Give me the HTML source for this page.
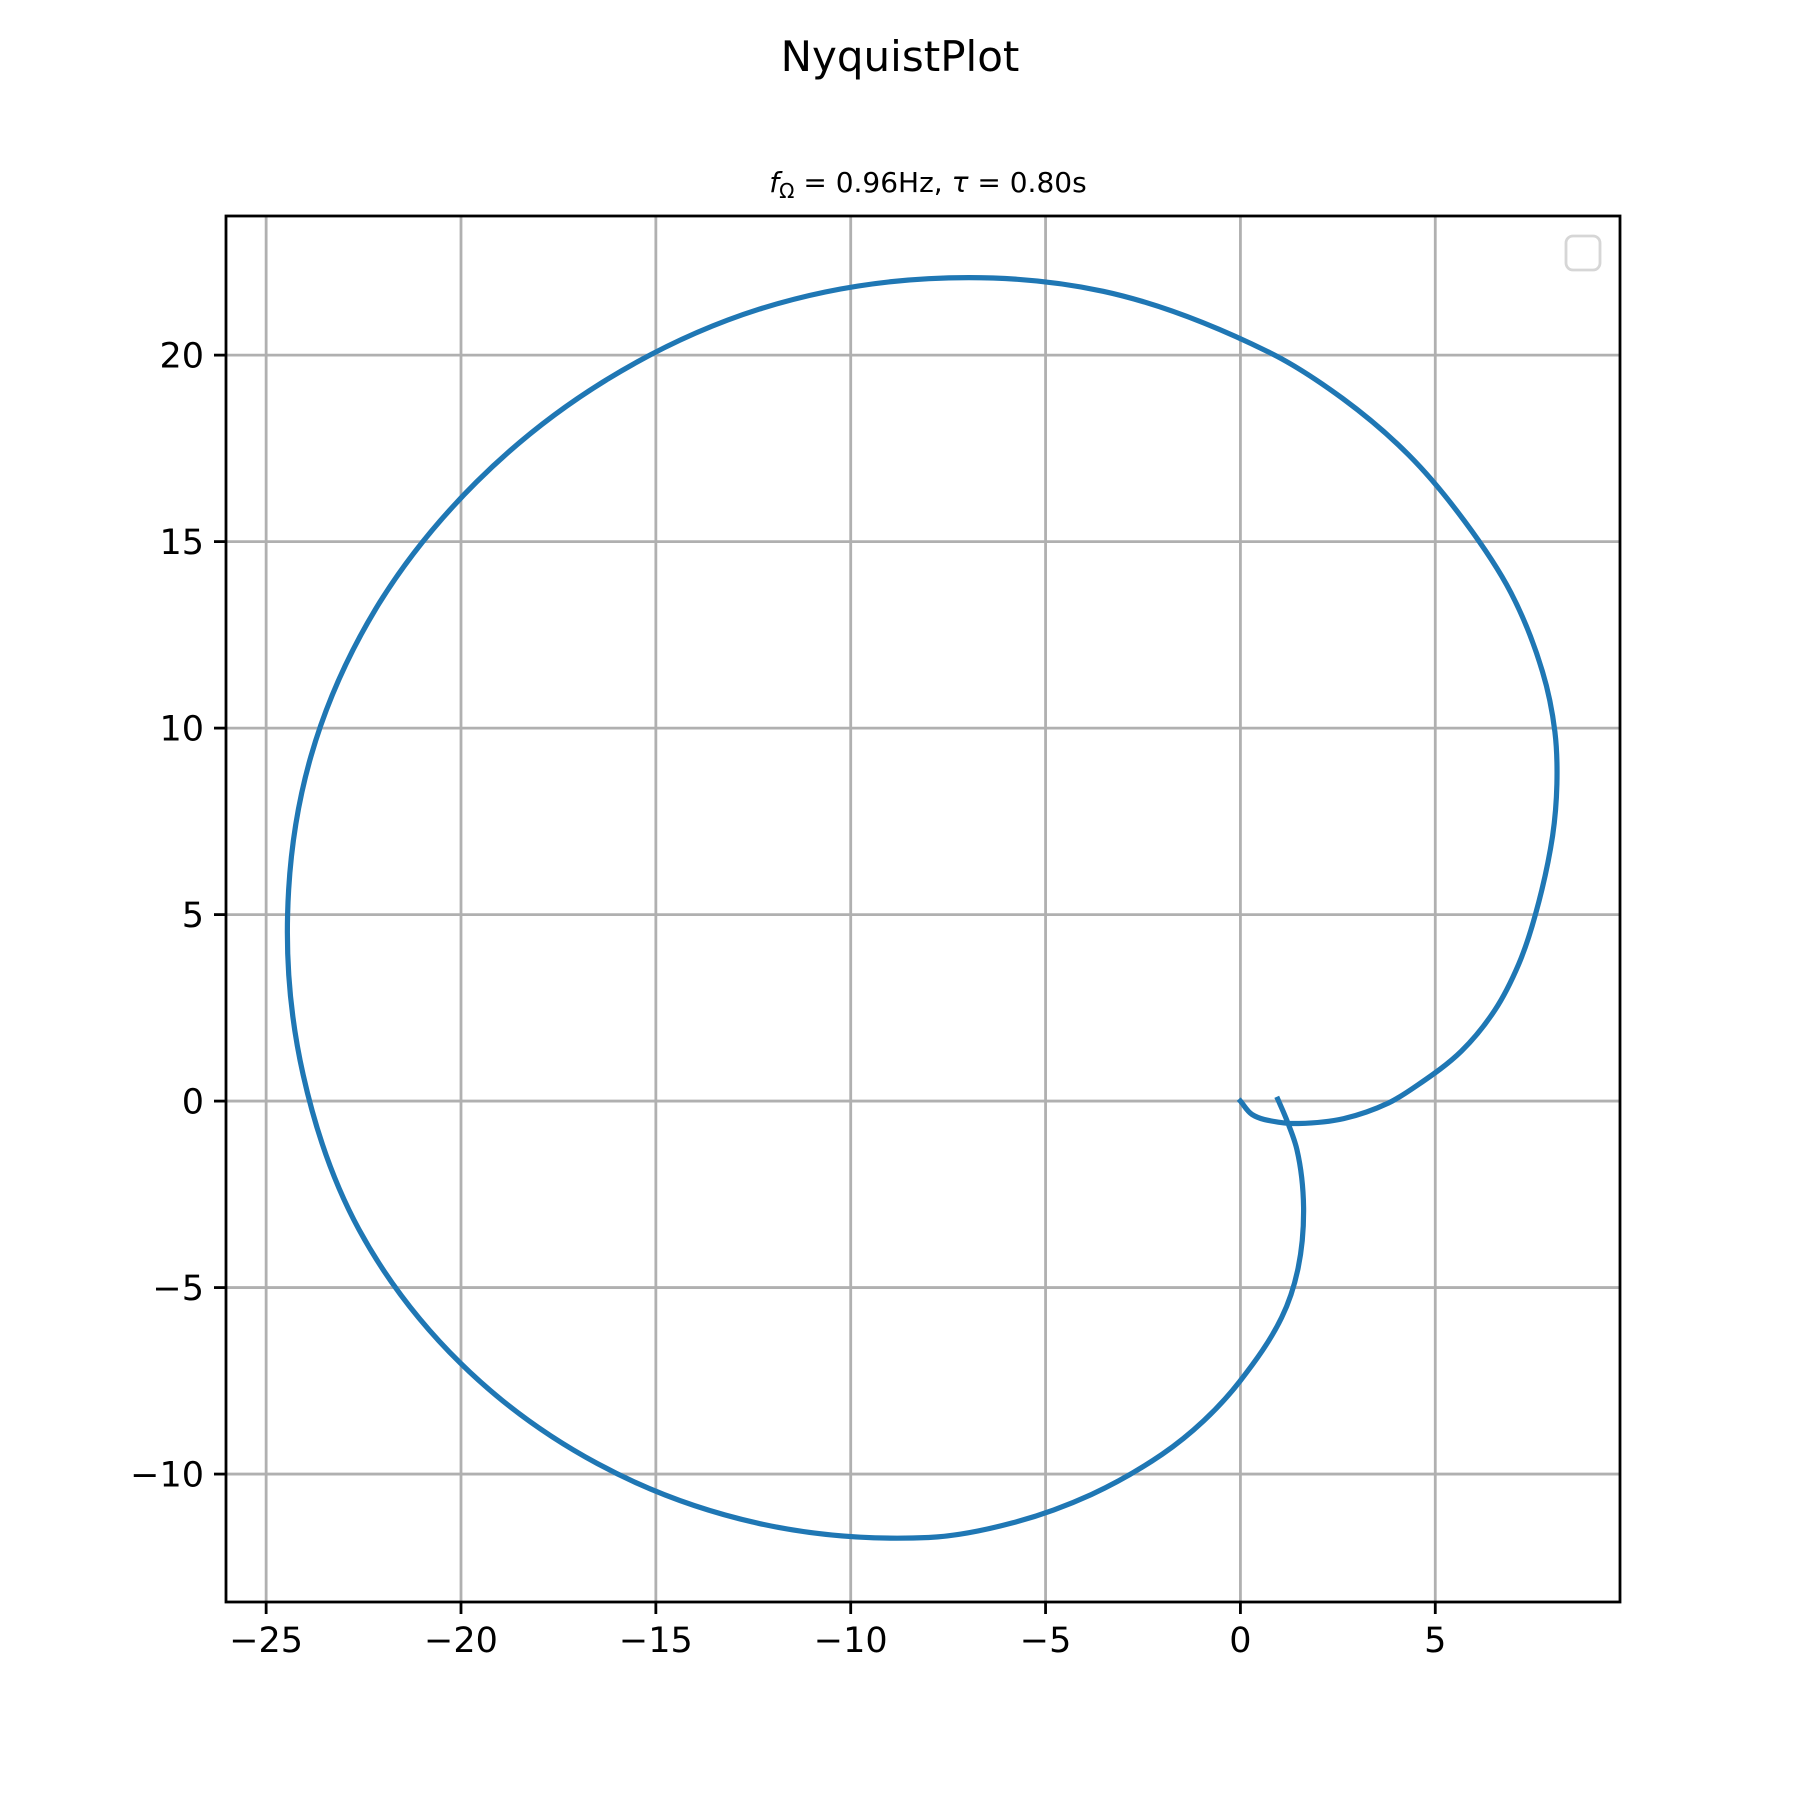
<!DOCTYPE html>
<html><head><meta charset="utf-8"><style>
html,body{margin:0;padding:0;background:#fff}
svg{display:block}
text{font-family:"DejaVu Sans","Liberation Sans",sans-serif;fill:#000}
</style></head><body>
<svg id="chart" width="1800" height="1800" viewBox="0 0 1800 1800" xmlns="http://www.w3.org/2000/svg">
<rect x="0" y="0" width="1800" height="1800" fill="#fff"/>
<text x="900" y="71" font-size="42" text-anchor="middle">NyquistPlot</text>
<text x="928" y="192" font-size="28" text-anchor="middle"><tspan font-style="italic">f</tspan><tspan font-size="20" dy="6">Ω</tspan><tspan dy="-6"> = 0.96Hz, </tspan><tspan font-style="italic">τ</tspan><tspan> = 0.80s</tspan></text>
<g id="grid"></g>
<g id="ticks"></g>
<path id="curve" fill="none" stroke="#1f77b4" stroke-width="5.2" stroke-linecap="square" stroke-linejoin="round"/>
<rect x="226" y="216" width="1394" height="1386" fill="none" stroke="#000" stroke-width="2.8"/>
<rect x="1566" y="236" width="34" height="34" rx="7" fill="#fff" stroke="#d6d6d6" stroke-width="2.8"/>
</svg>
<script>
const xTicks = [-25,-20,-15,-10,-5,0,5];
const yTicks = [-10,-5,0,5,10,15,20];
const xTickLabels = ["−25","−20","−15","−10","−5","0","5"];
const yTickLabels = ["−10","−5","0","5","10","15","20"];
const curveRe = [0,0.3,1.0,1.5,2.65,3.8,4.55,5.67,6.53,7.14,7.57,8.01,8.12,8.07,7.75,6.94,5.75,4.32,2.62,0.71,-3.52,-8,-12.35,-16.28,-19.6,-22.19,-23.85,-24.45,-24.05,-22.62,-20.02,-16.5,-12.37,-8,-5.85,-3.83,-2.01,-0.94,-0.02,1.06,1.48,1.62,1.45,1.17,0.96];
const curveIm = [0,-0.36,-0.57,-0.6,-0.47,-0.05,0.43,1.34,2.44,3.67,5.0,7.11,8.5,9.9,11.52,13.63,15.55,17.32,18.84,20.09,21.71,22.05,21.23,19.33,16.6,13.19,9.25,5,0.7,-3.44,-7.02,-9.72,-11.32,-11.7,-11.31,-10.55,-9.47,-8.57,-7.52,-5.8,-4.48,-2.86,-1.3,-0.46,0.05];
const X0=226,X1=1620,Y0=216,Y1=1602;
const xMin=-26.03,xMax=9.74,yMin=-13.43,yMax=23.73;
const sx=v=>X0+(v-xMin)/(xMax-xMin)*(X1-X0);
const sy=v=>Y1-(v-yMin)/(yMax-yMin)*(Y1-Y0);
const NS="http://www.w3.org/2000/svg";
const grid=document.getElementById('grid'),ticks=document.getElementById('ticks');
function mk(tag,attrs,parent){const e=document.createElementNS(NS,tag);for(const k in attrs)e.setAttribute(k,attrs[k]);parent.appendChild(e);return e;}
xTicks.forEach((t,i)=>{
  const x=sx(t);
  const g=mk('line',{x1:x,x2:x,y1:Y0,y2:Y1,stroke:'#b0b0b0','stroke-width':2.8},grid);
  
  
  const tk=mk('line',{x1:x,x2:x,y1:Y1,y2:Y1+12,stroke:'#000','stroke-width':2.8},ticks);
  
  
  const tx=mk('text',{x:x,y:Y1+50,'font-size':35,'text-anchor':'middle'},ticks);
  tx.textContent=xTickLabels[i];
  
  
});
yTicks.forEach((t,i)=>{
  const y=sy(t);
  const g=mk('line',{x1:X0,x2:X1,y1:y,y2:y,stroke:'#b0b0b0','stroke-width':2.8},grid);
  
  
  const tk=mk('line',{x1:X0-12,x2:X0,y1:y,y2:y,stroke:'#000','stroke-width':2.8},ticks);
  
  
  const tx=mk('text',{x:X0-22,y:y+12.5,'font-size':35,'text-anchor':'end'},ticks);
  tx.textContent=yTickLabels[i];
  
  
});
const P=curveRe.map((r,i)=>[sx(r),sy(curveIm[i])]);
const dist=(a,b)=>Math.hypot(a[0]-b[0],a[1]-b[1])||1e-6;
const unit=(a,b)=>{const l=dist(a,b);return [(b[0]-a[0])/l,(b[1]-a[1])/l];};
function tangent(i){
  const n=P.length;
  if(i===0) return unit(P[0],P[1]);
  if(i===n-1) return unit(P[n-2],P[n-1]);
  const u1=unit(P[i-1],P[i]),u2=unit(P[i],P[i+1]);
  const t=[u1[0]+u2[0],u1[1]+u2[1]];
  const l=Math.hypot(t[0],t[1])||1e-6;
  return [t[0]/l,t[1]/l];
}
let d='M'+P[0][0].toFixed(1)+' '+P[0][1].toFixed(1);
for(let i=0;i<P.length-1;i++){
  const L=dist(P[i],P[i+1]);
  const m1=tangent(i),m2=tangent(i+1);
  const c1=[P[i][0]+m1[0]*L/3,P[i][1]+m1[1]*L/3];
  const c2=[P[i+1][0]-m2[0]*L/3,P[i+1][1]-m2[1]*L/3];
  d+=' C'+c1[0].toFixed(1)+' '+c1[1].toFixed(1)+' '+c2[0].toFixed(1)+' '+c2[1].toFixed(1)+' '+P[i+1][0].toFixed(1)+' '+P[i+1][1].toFixed(1);
}
document.getElementById('curve').setAttribute('d',d);
</script>
</body></html>
